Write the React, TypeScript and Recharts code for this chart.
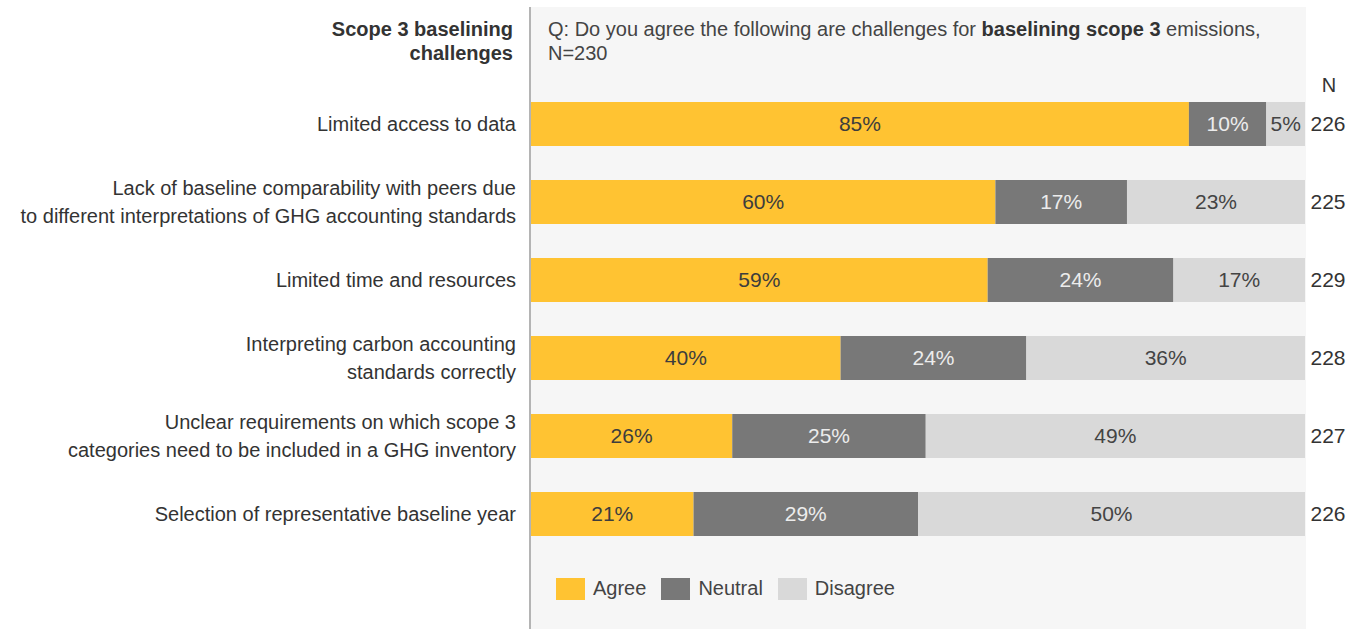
import React from 'react';
import { BarChart, Bar, XAxis, YAxis, Legend, LabelList } from 'recharts';

const categories = [
    'Limited access to data',
    'Lack of baseline comparability with peers due\nto different interpretations of GHG accounting standards',
    'Limited time and resources',
    'Interpreting carbon accounting\nstandards correctly',
    'Unclear requirements on which scope 3\ncategories need to be included in a GHG inventory',
    'Selection of representative baseline year',
];
const agree = [85, 60, 59, 40, 26, 21];
const neutral = [10, 17, 24, 24, 25, 29];
const disagree = [5, 23, 17, 36, 49, 50];
const respondents = [226, 225, 229, 228, 227, 226];

const series = [
    { key: 'agree', name: 'Agree', color: '#ffc332', text: '#3d3d3d' },
    { key: 'neutral', name: 'Neutral', color: '#787878', text: '#ececec' },
    { key: 'disagree', name: 'Disagree', color: '#d9d9d9', text: '#444444' },
];

const data = categories.map((name, i) => ({
    name,
    agree: agree[i],
    neutral: neutral[i],
    disagree: disagree[i],
    n: respondents[i],
}));

const FONT = '"Liberation Sans", Arial, sans-serif';

const CategoryTick = (props: any) => {
    const { x, y, payload } = props;
    const lines = String(payload.value).split('\n');
    const start = -((lines.length - 1) * 28) / 2;
    return (
        <text x={x - 7} y={y} textAnchor="end" fill="#333" fontSize={20} fontFamily={FONT}>
            {lines.map((l, i) => (
                <tspan key={i} x={x - 7} y={y + start + i * 28} dy="0.35em">{l}</tspan>
            ))}
        </text>
    );
};

const valueLabel = (color: string) => (props: any) => {
    const { x, y, width, height, value } = props;
    return (
        <text x={x + width / 2} y={y + height / 2} dy="0.35em" textAnchor="middle"
            fill={color} fontSize={21} fontFamily={FONT}>
            {`${value}%`}
        </text>
    );
};

const nLabel = (props: any) => {
    const { x, y, width, height, value } = props;
    return (
        <text x={x + width + 23} y={y + height / 2} dy="0.35em" textAnchor="middle"
            fill="#333" fontSize={21} fontFamily={FONT}>
            {value}
        </text>
    );
};

const LegendContent = () => (
    <div style={{ display: 'flex', alignItems: 'center', fontFamily: FONT, fontSize: 20, color: '#444' }}>
        {series.map(s => (
            <div key={s.key} style={{ display: 'flex', alignItems: 'center', marginRight: 15 }}>
                <span style={{ width: 29, height: 22, background: s.color, display: 'inline-block', marginRight: 8 }} />
                <span>{s.name}</span>
            </div>
        ))}
    </div>
);

export default function App() {
    return (
        <div style={{ position: 'relative', width: 1360, height: 629, background: '#fff', fontFamily: FONT, overflow: 'hidden' }}>
            <style>{'body{margin:0}'}</style>
            {/* panel behind the bars */}
            <div style={{ position: 'absolute', left: 529, top: 7, width: 775, height: 622, background: '#f6f6f6', borderLeft: '2px solid #b4b4b4' }} />

            <div style={{ position: 'absolute', right: 847, top: 17, textAlign: 'right', fontSize: 20, lineHeight: '24px', fontWeight: 'bold', color: '#333', whiteSpace: 'nowrap' }}>
                Scope 3 baselining<br />challenges
            </div>
            <div style={{ position: 'absolute', left: 548, top: 17, fontSize: 20, lineHeight: '24px', color: '#444', whiteSpace: 'nowrap' }}>
                Q: Do you agree the following are challenges for <b style={{ color: '#333' }}>baselining scope 3</b> emissions,<br />N=230
            </div>
            <div style={{ position: 'absolute', left: 1310, width: 38, top: 73, textAlign: 'center', fontSize: 20, lineHeight: '24px', color: '#333' }}>
                N
            </div>

            <div style={{ position: 'absolute', left: 0, top: 0 }}>
                <BarChart width={1360} height={629} data={data} layout="vertical"
                    margin={{ top: 85, right: 55, bottom: 76, left: 0 }}>
                    <XAxis type="number" domain={[0, 100]} hide />
                    <YAxis type="category" dataKey="name" width={531} axisLine={false} tickLine={false}
                        tick={<CategoryTick />} interval={0} />
                    {series.map(s => (
                        <Bar key={s.key} dataKey={s.key} name={s.name} stackId="a" fill={s.color}
                            barSize={44} isAnimationActive={false}>
                            <LabelList dataKey={s.key} content={valueLabel(s.text)} />
                            {s.key === 'disagree' && <LabelList dataKey="n" content={nLabel} />}
                        </Bar>
                    ))}
                    <Legend layout="horizontal" verticalAlign="middle" align="center"
                        wrapperStyle={{ left: 556, top: 577, width: 'auto', height: 26 }}
                        content={<LegendContent />} />
                </BarChart>
            </div>
        </div>
    );
}
